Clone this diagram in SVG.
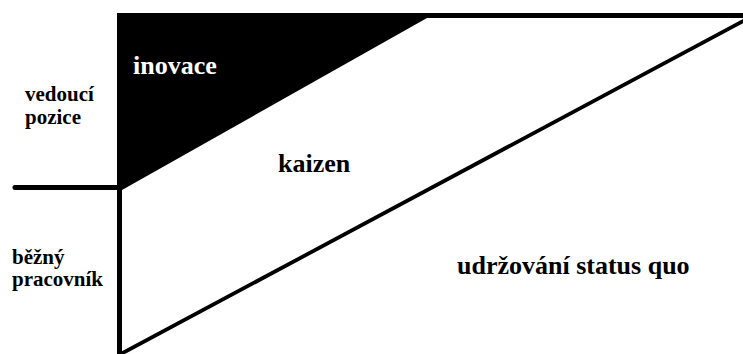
<svg xmlns="http://www.w3.org/2000/svg" width="743" height="354" viewBox="0 0 743 354">
<style>
.lbl{font-family:'Liberation Serif','Times New Roman',serif;font-weight:bold;fill:#000}
.side{font-size:21px}
.big{font-size:26px}
.ln{stroke:#000;fill:none}
</style>
<rect width="743" height="354" fill="#fff"/>
<g id="innovation-region">
<polygon points="117,13 432,13 427,18 122,190 117,190" fill="#000"/>
<text class="lbl big" x="133" y="74" font-family="Liberation Serif, serif" style="fill:#fff">inovace</text>
</g>
<g id="connectors">
<rect x="117" y="13" width="626" height="5" fill="#000"/>
<rect x="117" y="13" width="5" height="341" fill="#000"/>
<line class="ln" x1="15" y1="187.5" x2="119" y2="187.5" stroke-width="5" stroke-linecap="round"/>
<line class="ln" x1="745" y1="20" x2="119" y2="355" stroke-width="3.8"/>
</g>
<g id="kaizen">
<text class="lbl big" x="278" y="172">kaizen</text>
</g>
<g id="status-quo">
<text class="lbl big" x="457" y="274">udržování status quo</text>
</g>
<g id="leader">
<text class="lbl side" x="25" y="101">vedoucí</text>
<text class="lbl side" x="25" y="124">pozice</text>
</g>
<g id="worker">
<text class="lbl side" x="12" y="264">běžný</text>
<text class="lbl side" x="12" y="286">pracovník</text>
</g>
</svg>
